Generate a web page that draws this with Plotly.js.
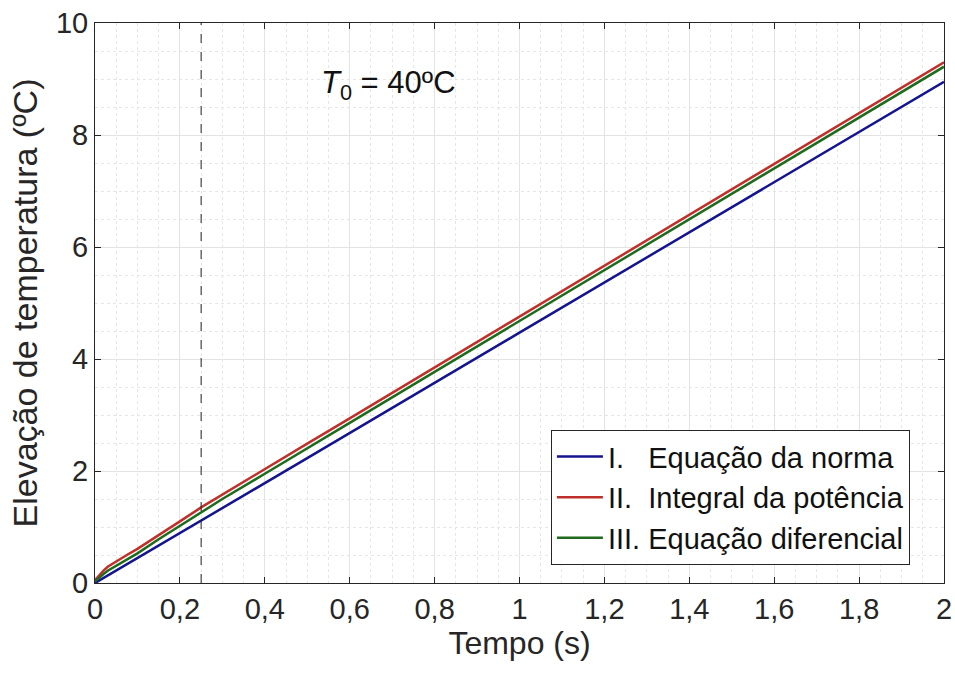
<!DOCTYPE html>
<html>
<head>
<meta charset="utf-8">
<script src="https://cdn.plot.ly/plotly-3.0.1.min.js"></script>
<style>html,body{margin:0;padding:0;background:#fff;}#chart{width:955px;height:674px;}</style>
</head>
<body>
<div id="chart"></div>
<script>
// Time (s) samples
const tBlue = [0, 0.25, 0.5, 1.0, 1.5, 2.0];
const blueVals = [0, 1.11, 2.23, 4.47, 6.71, 8.95];

const tCurve = [0, 0.01, 0.02, 0.03, 0.05, 0.075, 0.1, 0.15, 0.2, 0.25, 0.3, 0.4, 0.5, 0.6, 0.8, 1.0, 1.2, 1.4, 1.6, 1.8, 2.0];
const redVals = [0.05, 0.14, 0.22, 0.29, 0.39, 0.50, 0.61, 0.85, 1.10, 1.35, 1.58, 2.03, 2.49, 2.94, 3.85, 4.76, 5.67, 6.57, 7.48, 8.39, 9.30];
const greenVals = [0.03, 0.10, 0.16, 0.22, 0.31, 0.42, 0.53, 0.78, 1.02, 1.27, 1.50, 1.95, 2.41, 2.86, 3.77, 4.68, 5.58, 6.49, 7.40, 8.31, 9.22];

const seriesNames = ["I.\u00a0\u00a0\u00a0Equação da norma", "II.\u00a0\u00a0Integral da potência", "III. Equação diferencial"];
const markerTime = 0.25;
const xTicks = [0, 0.2, 0.4, 0.6, 0.8, 1, 1.2, 1.4, 1.6, 1.8, 2];
const yTicks = [0, 2, 4, 6, 8, 10];

const FONT = "Liberation Sans, Arial, Helvetica, sans-serif";

const traces = [
  {x: tBlue, y: blueVals, name: seriesNames[0], type: "scatter", mode: "lines", line: {color: "#14148f", width: 2.5}},
  {x: tCurve, y: redVals, name: seriesNames[1], type: "scatter", mode: "lines", line: {color: "#c0302a", width: 2.5}},
  {x: tCurve, y: greenVals, name: seriesNames[2], type: "scatter", mode: "lines", line: {color: "#1e6b1e", width: 2.5}}
];

const axisCommon = {
  showline: true, mirror: "ticks", linecolor: "#262626", linewidth: 1,
  ticks: "inside", ticklen: 6, tickcolor: "#262626",
  showgrid: true, gridcolor: "#e3e3e3", gridwidth: 1,
  zeroline: false,
  tickfont: {family: FONT, size: 29, color: "#262626"}
};

const layout = {
  width: 955, height: 674,
  margin: {l: 95, r: 11, t: 23, b: 91},
  paper_bgcolor: "#ffffff", plot_bgcolor: "#ffffff",
  separators: ", ",
  showlegend: true,
  font: {family: FONT, color: "#262626"},
  xaxis: Object.assign({}, axisCommon, {
    range: [0, 2], tickvals: xTicks,
    minor: {dtick: 0.05, showgrid: true, gridcolor: "#e6e6e6", griddash: "dot", gridwidth: 1},
    title: {text: "Tempo (s)", font: {family: FONT, size: 32, color: "#262626"}, standoff: 4}
  }),
  yaxis: Object.assign({}, axisCommon, {
    range: [0, 10], tickvals: yTicks,
    minor: {dtick: 0.5, showgrid: true, gridcolor: "#e6e6e6", griddash: "dot", gridwidth: 1},
    title: {text: "Elevação de temperatura (ºC)", font: {family: FONT, size: 34, color: "#262626"}, standoff: 8}
  }),
  legend: {
    x: 0.537, y: 0.273, xanchor: "left", yanchor: "top",
    bgcolor: "#ffffff", bordercolor: "#262626", borderwidth: 1,
    font: {family: FONT, size: 29, color: "#111111"},
    tracegroupgap: 0, itemwidth: 46
  },
  shapes: [{
    type: "line", xref: "x", yref: "paper", x0: markerTime, x1: markerTime, y0: 0, y1: 1,
    line: {color: "#222222", width: 1, dash: "dash"}
  }],
  annotations: [{
    xref: "paper", yref: "paper", x: 0.346, y: 0.89, xanchor: "center", yanchor: "middle",
    text: "<i>T</i><sub>0</sub> = 40ºC", showarrow: false,
    font: {family: FONT, size: 31, color: "#111111"}
  }]
};

Plotly.newPlot("chart", traces, layout, {displayModeBar: false, staticPlot: true});
</script>
</body>
</html>
